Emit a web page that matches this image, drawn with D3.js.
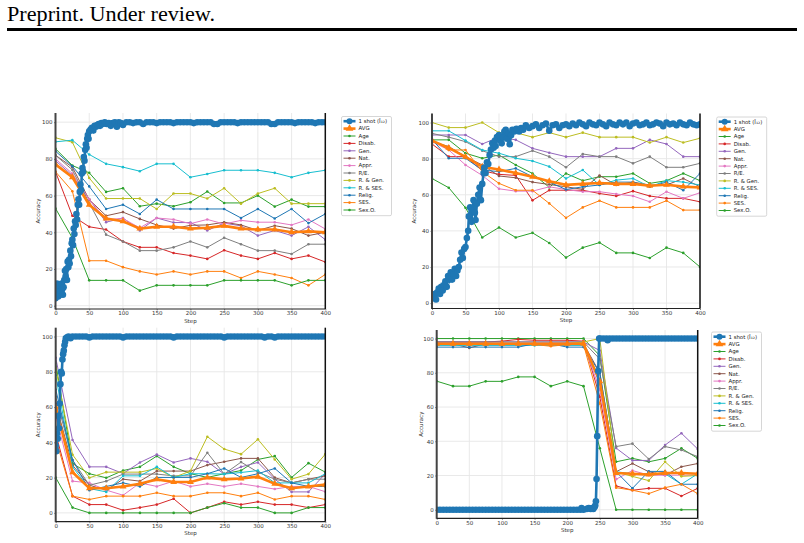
<!DOCTYPE html>
<html>
<head>
<meta charset="utf-8">
<script src="https://cdn.jsdelivr.net/npm/d3@7"></script>
<style>
body { margin: 0; background: #fff; }
svg { display: block; }
</style>
</head>
<body>
<svg id="fig" width="804" height="543"></svg>
<script>
// x positions shared by every category series
var steps = [0, 25, 50, 75, 100, 125, 150, 175, 200, 225, 250, 275, 300, 325, 350, 375, 400];
var xTicks = [0, 50, 100, 150, 200, 250, 300, 350, 400];
var yTicks = [0, 20, 40, 60, 80, 100];

var names = ['Age', 'Disab.', 'Gen.', 'Nat.', 'Appr.', 'R/E.', 'R. & Gen.', 'R. & SES.', 'Relig.', 'SES.', 'Sex.O.'];
var colors = ['#2ca02c', '#d62728', '#9467bd', '#8c564b', '#e377c2', '#7f7f7f', '#bcbd22', '#17becf', '#1f77b4', '#ff7f0e', '#2ca02c'];

// top left
var tlVals = [
  [85.5, 76.4, 72.4, 62, 64, 54.2, 55.6, 54.2, 56.4, 62.2, 56, 56, 60, 54, 57.8, 54, 54],
  [73, 49, 43, 41.5, 35, 31.8, 31.8, 28.7, 27.3, 25.5, 30.2, 27.3, 25.5, 28.7, 25.5, 27.3, 23.8],
  [79, 71, 58, 45.5, 47.8, 41, 47.8, 45.3, 45.3, 41, 45, 43.5, 38.2, 41, 38.2, 43, 36],
  [82, 75.5, 57.8, 49, 51, 47.3, 44, 42, 43.8, 44, 45.5, 44, 41, 43.6, 42, 38.2, 40],
  [80, 72, 58, 47, 47.5, 42.4, 47.8, 47, 44.7, 47, 44.5, 46.5, 45.5, 45.5, 44, 47, 41.8],
  [82, 74, 56, 38.7, 35, 30, 30, 31.8, 35, 31.8, 37, 33.5, 30, 30, 28.2, 33.5, 33.5],
  [91.5, 89.1, 69.6, 58.4, 58.4, 58.4, 52.7, 61.1, 61.1, 58.4, 64, 55.6, 61.1, 64, 55.6, 55.6, 55.6],
  [89.3, 90.2, 82.4, 77.3, 75.5, 73.3, 77.3, 77.3, 70, 71.8, 73.8, 73.8, 73.8, 72.4, 70, 72.4, 73.8],
  [84.2, 76, 65, 52.7, 55, 50, 57.8, 52.7, 52.7, 52.7, 52.7, 47.8, 52.7, 47.5, 52.7, 45, 50],
  [73, 62.4, 24.5, 24.5, 21, 18.7, 17, 18.7, 17, 18.7, 18.7, 15.1, 18.7, 17, 15.1, 11.1, 17],
  [53, 36.9, 13.8, 13.8, 13.8, 8.2, 11.1, 11.1, 11.1, 11.1, 13.8, 13.8, 13.8, 13.8, 11.1, 13.8, 13.8]
];
var tlAvg = [77, 70, 55, 47.5, 46, 42, 43, 43, 42, 42.5, 43.5, 42, 41.5, 41.5, 40, 40.5, 40];
var tlShot = [[0,4],[1,7],[2,12],[3,9],[4,5],[5,8],[6,11],[7,6],[8,8],[9,12],[10,9],[11,6],[12,10],[13,14],[14,19],[15,16],[16,20],[17,14],[18,24],[19,21],[20,25],[21,23],[22,30],[23,27],[24,34],[25,36],[26,33],[27,42],[28,39],[29,46],[30,44],[31,50],[32,47],[33,55],[34,58],[35,55],[36,62],[37,66],[38,63],[39,72],[40,75],[41,73],[42,81],[43,79],[44,85],[45,88],[46,86],[47,91],[48,93],[49,91],[50,95],[52,96],[54,97],[56,95.5],[58,98],[60,97.5],[62,98.5],[64,99],[66,98],[68,99.5],[70,99],[73,100],[76,99],[79,99.5],[82,98],[85,99.5],[88,100],[91,97.5],[94,100],[97,99.5],[100,98.5],[105,100],[110,100],[115,99.5],[120,100],[125,100],[130,99],[135,100],[140,100],[145,100],[150,99.5],[155,100],[160,100],[165,100],[170,100],[175,99.5],[180,100],[185,100],[190,100],[195,100],[200,100],[205,99.5],[210,100],[215,100],[220,100],[225,100],[230,100],[235,99],[240,99],[245,100],[250,100],[255,100],[260,100],[265,100],[270,99.5],[275,100],[280,100],[285,100],[290,100],[295,100],[300,100],[305,100],[310,100],[315,100],[320,99],[325,99],[330,100],[335,100],[340,100],[345,100],[350,100],[355,99.5],[360,100],[365,100],[370,100],[375,100],[380,100],[385,99.5],[390,100],[395,100],[400,100]];

// top right
var trVals = [
  [90.4, 90.4, 83, 80.2, 82, 76.5, 71.8, 64.1, 71.8, 67.8, 70, 70, 71.8, 66.3, 67.8, 71.8, 67.8],
  [88.1, 81.1, 81.1, 73.3, 71.3, 70.7, 56.9, 62.5, 62.5, 62.5, 60.7, 59.3, 62, 59.3, 58, 58, 56.1],
  [93.1, 93.1, 93.1, 88.1, 91.9, 90.4, 85.7, 83.3, 81.1, 81.1, 81.1, 85.7, 85.7, 90.4, 88.1, 81.1, 81.1],
  [89.4, 86.7, 81.1, 76.5, 70.4, 69.4, 67, 65.7, 64.4, 63, 70.7, 65.4, 67, 65.4, 65.4, 69, 64.4],
  [89.4, 84.8, 76.5, 70.7, 63.3, 62, 62, 64.4, 62.9, 61.7, 61.7, 60.4, 59.3, 56.1, 61.7, 58, 61.1],
  [94, 91.9, 89.4, 84.4, 81.1, 81.1, 84.4, 81.1, 75.2, 82.6, 81.1, 81.1, 77.4, 81.1, 75.2, 75.2, 77.4],
  [100, 97.2, 97.2, 100, 94.4, 94.4, 91.9, 94.4, 91.9, 94.4, 91.9, 91.9, 91.9, 88.9, 91.9, 88.9, 91.3],
  [95.4, 95.4, 90, 84.8, 83, 80.2, 78.7, 75.6, 69, 73.7, 65.4, 68.1, 69, 64.4, 67.8, 67, 65.4],
  [90.7, 80.2, 80.2, 73.7, 72.8, 74.6, 70, 67, 62.9, 64.4, 65.4, 67, 67, 64.4, 67, 62.5, 71.8],
  [90.4, 84.8, 84.8, 72.8, 66.3, 62.5, 62.5, 55.2, 47.2, 53, 56.7, 53, 53, 53, 56.7, 51.5, 51.5],
  [69, 63.9, 52.8, 36.3, 41.9, 36.3, 38.9, 33.3, 25.2, 30.7, 33.5, 27.8, 27.8, 25, 30.7, 27.8, 20]
];
var trAvg = [90, 86, 81, 75.5, 74, 72, 70, 67.5, 65.5, 66, 66.5, 66, 66, 65, 65.5, 64.5, 64];
var trShot = [[0,4],[2,3],[4,5],[6,2],[8,6],[10,8],[12,5],[14,9],[16,7],[18,10],[20,12],[22,9],[24,15],[26,13],[28,17],[30,13],[32,16],[34,19],[36,15],[38,18],[40,20],[42,24],[44,28],[46,25],[48,30],[50,31],[52,36],[54,40],[55,48],[57,53],[59,45],[60,51],[62,57],[64,50],[65,46],[67,55],[69,60],[71,64],[73,57],[75,66],[77,72],[78,75],[80,72],[82,78],[84,77],[86,82],[88,85],[90,88.5],[92,86],[94,90],[95,87],[97,92],[100,93],[102,90],[104,88.5],[106,92],[108,95],[110,96],[112,91],[114,94],[116,88],[118,93],[120,96],[123,95],[126,96.5],[130,95],[133,97],[136,96],[140,98.5],[145,97],[150,98],[155,99],[160,97],[165,98.5],[170,99.5],[175,95.5],[180,98.5],[185,99],[190,97],[195,98.5],[200,99],[205,98],[210,99.5],[215,98.5],[220,100],[225,99],[230,98],[235,100],[240,99],[245,98.5],[250,100],[255,99],[260,98],[265,100],[270,99],[275,98.5],[280,100],[285,99],[290,100],[295,98],[300,99.5],[305,100],[310,98.5],[315,99],[320,100],[325,98.5],[330,99],[335,100],[340,99.5],[345,98],[350,100],[355,99],[360,99.5],[365,98.5],[370,100],[375,99],[380,98.5],[385,100],[390,99],[395,98.5],[400,99]];

// bottom left
var blVals = [
  [85, 28, 22.2, 19.9, 24, 26.1, 32.2, 26.1, 22.2, 20.1, 22.2, 24, 30.3, 32.2, 20.1, 28.2, 23.1],
  [45, 9.5, 4.7, 4.7, 1.5, 3, 4.7, 8, 0, 3, 6.3, 4.7, 6.3, 4.7, 4.7, 3, 4.7],
  [88, 41.3, 26.1, 26.1, 22.3, 28.6, 33.1, 28.6, 30.9, 29, 22, 26.1, 28.6, 19.1, 11.9, 11.9, 22.2],
  [62, 27, 15.7, 12.9, 19.1, 18, 23.7, 23.7, 23.7, 27.1, 29, 30.9, 30.9, 20, 17, 19.1, 21],
  [55, 18, 17, 12.9, 10, 17, 15, 18, 15, 16.5, 15, 16.5, 15, 13.5, 15, 15, 12],
  [66, 30, 15.7, 18, 22, 22, 22, 21, 21, 34.1, 22, 28.8, 23.1, 19.1, 17, 19.1, 19.1],
  [82, 33, 19.9, 23.1, 23.1, 23.1, 25.2, 20.1, 23.7, 43.2, 36.2, 33.3, 41.7, 30.3, 19.1, 22, 33.3],
  [78, 26, 13.8, 11.9, 21, 21, 26.1, 20.1, 22.2, 22.2, 22, 22.9, 24, 17, 17, 17, 22.2],
  [70, 30, 12.9, 15, 17, 15, 20.1, 20.1, 20.1, 22.2, 25.2, 20.1, 22.2, 25.2, 17, 15, 15],
  [42, 9.5, 7.6, 9.5, 9.5, 9.5, 11.4, 9.5, 9.5, 11.4, 11.4, 9.5, 11.4, 7.6, 9.5, 9.5, 7.6],
  [20, 3, 0, 0, 0, 0, 0, 0, 0, 3, 5.5, 3, 3, 0, 0, 3, 3]
];
var blAvg = [60, 23, 14, 14, 15, 16.5, 19, 17.5, 17.5, 20, 19, 19.5, 20.5, 16.5, 14, 15, 16];
var blShot = [[0,38],[1,35],[2,45],[3,42],[4,55],[5,48],[6,62],[7,73],[8,80],[9,79],[10,87],[11,90],[12,92],[13,95],[14,97],[15,99],[17,99.5],[19,100],[22,99],[25,100],[30,100],[35,100],[40,100],[45,100],[50,99.5],[55,100],[60,100],[65,100],[70,100],[75,100],[80,100],[85,100],[90,100],[95,100],[100,99.5],[105,100],[110,100],[115,100],[120,100],[125,100],[130,100],[135,100],[140,100],[145,100],[150,100],[155,100],[160,100],[165,100],[170,100],[175,99.5],[180,100],[185,100],[190,100],[195,100],[200,100],[205,100],[210,100],[215,100],[220,100],[225,100],[230,100],[235,100],[240,100],[245,100],[250,99.5],[255,100],[260,100],[265,100],[270,100],[275,100],[280,100],[285,100],[290,100],[295,100],[300,100],[305,100],[310,99.5],[315,100],[320,100],[325,99.5],[330,100],[335,100],[340,100],[345,100],[350,100],[355,100],[360,100],[365,100],[370,100],[375,100],[380,100],[385,100],[390,100],[395,100],[400,100]];

// bottom right
var brVals = [
  [100, 100, 100, 100, 100, 100, 100, 100, 100, 100, 90, 28, 30, 28, 30, 35.9, 30],
  [98, 98, 98, 98, 98.5, 99.5, 99, 99, 99, 98.5, 66, 13.9, 11.4, 12.5, 12.5, 8, 12.5],
  [98, 98, 98, 98, 98, 98, 98, 98, 98, 98, 93, 36, 28.8, 28.8, 37.8, 44.7, 35.5],
  [97, 97, 94.5, 97, 97, 97, 97, 97, 97, 97, 80, 22.2, 27, 22.2, 20.2, 25.1, 27],
  [97, 97, 97, 97, 97, 97, 97, 97, 97, 97, 70, 17.8, 22.9, 20.2, 20.2, 20.2, 20.2],
  [98, 98, 98, 98, 98, 98, 98, 98, 98, 98, 88, 36.9, 38.6, 29.6, 36.9, 34.9, 31],
  [97, 97, 97, 97, 97, 97, 97, 97, 97, 98, 100, 22, 19.5, 17, 28, 19.5, 20],
  [96, 96, 96, 96, 96, 96, 96, 96, 96, 96, 74, 22.2, 21, 21, 21, 14.9, 21],
  [95, 95, 95, 95, 95, 95, 97, 97, 95, 95, 80, 22.2, 12.5, 22.4, 22.4, 14.9, 14.9],
  [96.5, 96.5, 96.5, 96.5, 96.5, 96.5, 96.5, 95.5, 96.5, 96.5, 62, 12.9, 11.4, 9.4, 12.9, 14.9, 9.4],
  [75.1, 72.2, 72.2, 75, 75, 77.6, 77.6, 72.2, 75, 72.2, 35.9, 0, 0, 0, 0, 0, 0]
];
var brAvg = [97, 97, 97, 97, 97, 97, 97, 97, 97, 97, 75, 21.5, 21, 20.5, 21.5, 21.5, 21];
var brShot = [[0,0],[5,0],[10,0],[15,0],[20,0],[25,0],[30,0],[35,0],[40,0],[45,0],[50,0],[55,0],[60,0],[65,0],[70,0],[75,0],[80,0],[85,0],[90,0],[95,0],[100,0],[105,0],[110,0],[115,0],[120,0],[125,0],[130,0],[135,0],[140,0],[145,0],[150,0],[155,0],[160,0],[165,0],[170,0],[175,0],[180,0],[185,0],[190,0],[195,0],[200,0],[205,0],[210,0],[215,0],[220,0],[222,1],[225,0],[230,0.5],[233,1],[236,0.5],[238,1],[240,0.5],[242,1.5],[243,2.5],[244,5],[245,18],[246,43],[247.5,81],[249,100],[250,100],[255,100],[260,100],[262,99],[265,100],[270,100],[275,100],[280,100],[285,100],[290,100],[295,100],[300,100],[305,100],[310,100],[315,100],[320,100],[325,100],[330,100],[335,100],[340,100],[345,100],[350,100],[355,100],[360,100],[365,100],[370,100],[375,100],[380,100],[385,100],[390,100],[395,100],[400,100]];

var shotLabel = '1 shot (\u00ce\u2081\u2082)';
var font = '"DejaVu Sans", sans-serif';

var svg = d3.select('#fig');

svg.append('text')
  .attr('x', 7).attr('y', 21)
  .attr('font-family', '"Liberation Serif", "DejaVu Serif", serif')
  .attr('font-size', 21)
  .attr('textLength', 208)
  .attr('lengthAdjust', 'spacingAndGlyphs')
  .text('Preprint. Under review.');
svg.append('rect').attr('x', 7).attr('y', 28).attr('width', 790).attr('height', 3).attr('fill', '#000');

var panels = [
  {id: 'tl', vals: tlVals, avg: tlAvg, shot: tlShot, xr: [55.5, 325.3], yd: [-1.8, 105], yr: [309, 113], ylab: 38, legend: [341.5, 116.5]},
  {id: 'tr', vals: trVals, avg: trAvg, shot: trShot, xr: [432, 700], yd: [-3, 105], yr: [308.5, 113.5], ylab: 414, legend: [716.7, 117]},
  {id: 'bl', vals: blVals, avg: blAvg, shot: blShot, xr: [55.7, 325.3], yd: [-5, 105], yr: [521.7, 327.7], ylab: 38, legend: null},
  {id: 'br', vals: brVals, avg: brAvg, shot: brShot, xr: [436.7, 697.7], yd: [-5, 105], yr: [518.3, 330], ylab: 420.7, legend: [711.5, 332]}
];

function drawPanel(p) {
  var x = d3.scaleLinear().domain([0, 400]).range(p.xr);
  var y = d3.scaleLinear().domain(p.yd).range(p.yr);
  var g = svg.append('g');

  g.append('clipPath').attr('id', 'clip-' + p.id)
    .append('rect')
    .attr('x', p.xr[0]).attr('y', p.yr[1])
    .attr('width', p.xr[1] - p.xr[0]).attr('height', p.yr[0] - p.yr[1]);

  // grid
  g.selectAll('.gx').data(xTicks).join('line')
    .attr('x1', d => x(d)).attr('x2', d => x(d))
    .attr('y1', p.yr[1]).attr('y2', p.yr[0])
    .attr('stroke', '#e6e6e6').attr('stroke-width', 0.9);
  g.selectAll('.gy').data(yTicks).join('line')
    .attr('x1', p.xr[0]).attr('x2', p.xr[1])
    .attr('y1', d => y(d)).attr('y2', d => y(d))
    .attr('stroke', '#e6e6e6').attr('stroke-width', 0.9);

  // axes
  var ax = g.append('g').attr('transform', 'translate(0,' + p.yr[0] + ')')
    .call(d3.axisBottom(x).tickValues(xTicks).tickSize(1.5).tickPadding(1));
  var ay = g.append('g').attr('transform', 'translate(' + p.xr[0] + ',0)')
    .call(d3.axisLeft(y).tickValues(yTicks).tickSize(1.5).tickPadding(1.5));
  [ax, ay].forEach(function(a) {
    a.select('.domain').remove();
    a.selectAll('text').attr('font-family', font).attr('font-size', 5.5).attr('fill', '#333');
    a.selectAll('line').attr('stroke', '#333').attr('stroke-width', 0.6);
  });

  g.append('text')
    .attr('x', (p.xr[0] + p.xr[1]) / 2).attr('y', p.yr[0] + 13.5)
    .attr('text-anchor', 'middle')
    .attr('font-family', font).attr('font-size', 5.5).attr('fill', '#333')
    .text('Step');
  g.append('text')
    .attr('transform', 'translate(' + p.ylab + ',' + ((p.yr[0] + p.yr[1]) / 2) + ') rotate(-90)')
    .attr('text-anchor', 'middle').attr('dy', '0.35em')
    .attr('font-family', font).attr('font-size', 5.5).attr('fill', '#333')
    .text('Accuracy');

  var plot = g.append('g').attr('clip-path', 'url(#clip-' + p.id + ')');
  var line = d3.line().x((d, i) => x(steps[i])).y(d => y(d));

  p.vals.forEach(function(vals, k) {
    plot.append('path').attr('d', line(vals))
      .attr('fill', 'none').attr('stroke', colors[k]).attr('stroke-width', 1);
    plot.selectAll(null).data(vals).join('circle')
      .attr('cx', (d, i) => x(steps[i])).attr('cy', d => y(d))
      .attr('r', 1.3).attr('fill', colors[k]);
  });

  plot.append('path').attr('d', line(p.avg))
    .attr('fill', 'none').attr('stroke', '#ff7f0e').attr('stroke-width', 2.6);
  plot.selectAll(null).data(p.avg).join('path')
    .attr('d', d3.symbol(d3.symbolTriangle, 20))
    .attr('transform', (d, i) => 'translate(' + x(steps[i]) + ',' + y(d) + ')')
    .attr('fill', '#ff7f0e');

  var shotLine = d3.line().x(d => x(d[0])).y(d => y(d[1]));
  plot.append('path').attr('d', shotLine(p.shot))
    .attr('fill', 'none').attr('stroke', '#1f77b4').attr('stroke-width', 2.6);
  plot.selectAll(null).data(p.shot).join('circle')
    .attr('cx', d => x(d[0])).attr('cy', d => y(d[1]))
    .attr('r', 3.3).attr('fill', '#1f77b4');

  // spines
  g.append('line').attr('x1', p.xr[0]).attr('x2', p.xr[0]).attr('y1', p.yr[1]).attr('y2', p.yr[0] + 0.5)
    .attr('stroke', '#444').attr('stroke-width', 2);
  g.append('line').attr('x1', p.xr[0]).attr('x2', p.xr[1]).attr('y1', p.yr[0]).attr('y2', p.yr[0])
    .attr('stroke', '#222').attr('stroke-width', 1.2);
  g.append('line').attr('x1', p.xr[1]).attr('x2', p.xr[1]).attr('y1', p.yr[1]).attr('y2', p.yr[0])
    .attr('stroke', '#111').attr('stroke-width', 1.5);

  if (p.legend) drawLegend(p.legend[0], p.legend[1]);
}

function drawLegend(x0, y0) {
  var entries = [{label: shotLabel, color: '#1f77b4', kind: 'shot'}, {label: 'AVG', color: '#ff7f0e', kind: 'avg'}]
    .concat(names.map((n, k) => ({label: n, color: colors[k], kind: 'cat'})));
  var rowH = 7.4;
  var lg = svg.append('g');
  lg.append('rect')
    .attr('x', x0).attr('y', y0).attr('width', 50).attr('height', entries.length * rowH + 3)
    .attr('rx', 1.5).attr('fill', '#fff').attr('stroke', '#cccccc').attr('stroke-width', 0.8);
  var rows = lg.selectAll('.row').data(entries).join('g')
    .attr('transform', (d, i) => 'translate(' + x0 + ',' + (y0 + 4.7 + i * rowH) + ')');
  rows.append('line')
    .attr('x1', 2).attr('x2', 14).attr('y1', 0).attr('y2', 0)
    .attr('stroke', d => d.color)
    .attr('stroke-width', d => d.kind === 'cat' ? 1 : 2.6);
  rows.filter(d => d.kind === 'shot').append('circle').attr('cx', 8).attr('cy', 0).attr('r', 3).attr('fill', d => d.color);
  rows.filter(d => d.kind === 'avg').append('path')
    .attr('d', d3.symbol(d3.symbolTriangle, 26)).attr('transform', 'translate(8,0)').attr('fill', d => d.color);
  rows.filter(d => d.kind === 'cat').append('circle').attr('cx', 8).attr('cy', 0).attr('r', 1.3).attr('fill', d => d.color);
  rows.append('text')
    .attr('x', 17).attr('y', 0).attr('dy', '0.35em')
    .attr('font-family', font).attr('font-size', 5.4).attr('fill', '#222')
    .text(d => d.label);
}

panels.forEach(drawPanel);
</script>
</body>
</html>
